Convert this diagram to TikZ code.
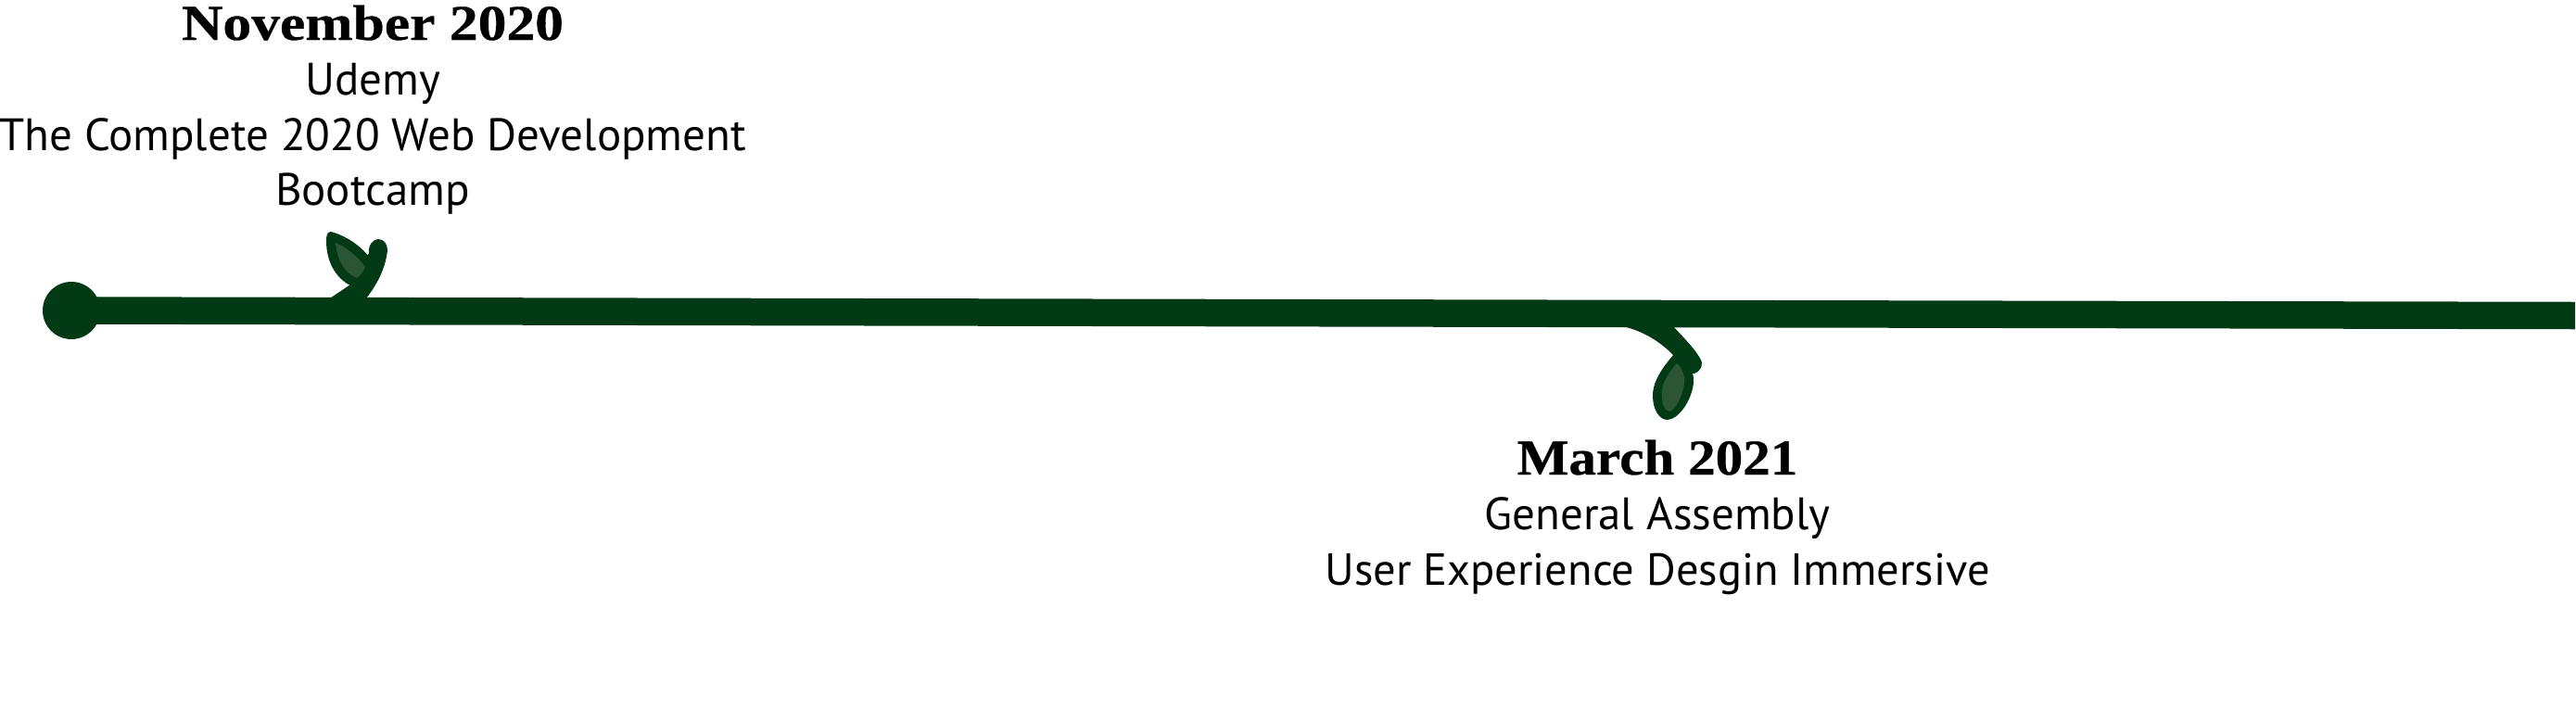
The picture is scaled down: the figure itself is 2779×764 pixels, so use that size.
\documentclass[tikz,border=0pt]{standalone}
\usepackage{fontspec}
\setmainfont{PT Sans}
\newfontfamily\headf{Liberation Serif Bold}[FakeStretch=1.14,FakeBold=0.6]
\newfontfamily\headg{Liberation Serif Bold}[FakeStretch=1.095,FakeBold=0.6]
\definecolor{vine}{HTML}{033A16}
\definecolor{leafin}{HTML}{2C5535}
\tikzset{x=1pt,y=-1pt,
  body/.style={anchor=base,inner sep=0pt,font=\fontsize{49}{60}\selectfont,text=black},
  head/.style={anchor=base,inner sep=0pt,font=\headf\fontsize{54}{60}\selectfont,text=black},
  leafo/.style={fill=vine},
  leafi/.style={fill=leafin}}
\begin{document}
\begin{tikzpicture}
\useasboundingbox (0,0) rectangle (2779,764);
\coordinate (s) at (77,335);
\coordinate (e) at (2778,340.5);
\draw[vine,line width=29.5pt] (s) -- (e);
\node[fill=vine,inner sep=0pt,circle,minimum size=62pt] (dot) at (s) {};
% sprout 1
\path[leafo] (357,250) .. controls (372,254) and (388,264) .. (398,277) .. controls (396,290) and (388,300) .. (378,308) .. controls (362,300) and (352,282) .. (352,260) .. controls (352,254) and (353,250) .. (357,250) -- cycle;
\path[leafo] (352,325) .. controls (358,320) and (368,314) .. (378,307) -- (398,273) .. controls (397,264) and (403,258) .. (408,258) .. controls (414,258) and (418,263) .. (418,270) .. controls (416,290) and (406,308) .. (395,322) -- cycle;
\path[leafi] (362,262) .. controls (374,267) and (386,277) .. (394,288) .. controls (392,293) and (389,297) .. (385,300) .. controls (373,295) and (364,283) .. (362,262) -- cycle;
% sprout 2
\path[leafo] (1806,382) .. controls (1818,388) and (1828,398) .. (1827,412) .. controls (1826,430) and (1812,452) .. (1799,453) .. controls (1790,453) and (1783,442) .. (1783,427) .. controls (1783,410) and (1795,395) .. (1806,382) -- cycle;
\path[leafo] (1738,350) .. controls (1766,353) and (1788,366) .. (1804,382) -- (1822,403) .. controls (1830,405) and (1837,398) .. (1836,391) .. controls (1832,380) and (1818,366) .. (1803,350) -- cycle;
\path[leafi] (1809,392) .. controls (1815,398) and (1818,405) .. (1817,413) .. controls (1816,425) and (1808,443) .. (1801,444) .. controls (1796,444) and (1792,435) .. (1793,422) .. controls (1794,410) and (1802,400) .. (1809,392) -- cycle;
% texts
\node[head] (t1) at (402,43) {November 2020};
\node[body] (t2) at (402,102) {Udemy};
\node[body] (t3) at (402,162) {The Complete 2020 Web Development};
\node[body] (t4) at (402,221) {Bootcamp};
\node[head,font=\headg\fontsize{54}{60}\selectfont] (m1) at (1788,512) {March 2021};
\node[body] (m2) at (1788,571) {General Assembly};
\node[body,font=\fontsize{48.5}{60}\selectfont] (m3) at (1788,631) {User Experience Desgin Immersive};
\end{tikzpicture}
\end{document}
